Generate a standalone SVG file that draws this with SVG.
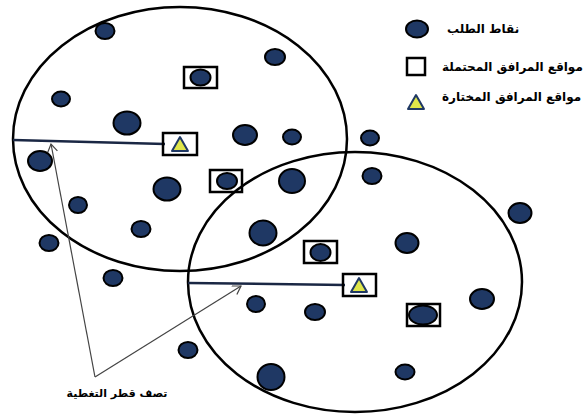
<svg xmlns="http://www.w3.org/2000/svg" width="585" height="414" viewBox="0 0 585 414">
<defs>
<style>
.ring{fill:none;stroke:#000;stroke-width:2.5}
.dot{fill:#1f3864;stroke:#000;stroke-width:2}
.box{fill:none;stroke:#000;stroke-width:2.5}
.tri{fill:#dfe64a;stroke:#1f3864;stroke-width:2;stroke-linejoin:round}
.radius{stroke:#1a2744;stroke-width:2.5;fill:none}
.ptr{stroke:#444;stroke-width:1.2;fill:none}
.lbl{font-family:"DejaVu Sans",sans-serif;font-weight:bold;font-size:11px;fill:#000}
.leg{font-family:"DejaVu Sans",sans-serif;font-weight:bold;font-size:12px;fill:#000}
</style>
<marker id="open" markerWidth="12" markerHeight="12" refX="9" refY="5" orient="auto" markerUnits="userSpaceOnUse">
<path d="M1,0 L9,5 L1,10" fill="none" stroke="#444" stroke-width="1.2"/>
</marker>
</defs>
<rect width="585" height="414" fill="#fff"/>

<g id="coverage1"><ellipse class="ring" cx="180" cy="139" rx="167" ry="132"/></g>
<g id="coverage2"><ellipse class="ring" cx="355" cy="282" rx="167" ry="130"/></g>

<g id="connectors">
<line class="radius" x1="13" y1="140" x2="165" y2="144"/>
<line class="radius" x1="188" y1="283" x2="345" y2="285"/>
<line class="ptr" x1="95" y1="377" x2="51" y2="144" marker-end="url(#open)"/>
<line class="ptr" x1="95" y1="377" x2="241" y2="286" marker-end="url(#open)"/>
</g>

<g id="demand-points">
<ellipse class="dot" cx="105" cy="31" rx="9.5" ry="8"/>
<ellipse class="dot" cx="275" cy="57" rx="10" ry="8"/>
<ellipse class="dot" cx="61" cy="99" rx="9" ry="7.5"/>
<ellipse class="dot" cx="127" cy="123" rx="13.5" ry="11.5"/>
<ellipse class="dot" cx="245" cy="135" rx="12" ry="10"/>
<ellipse class="dot" cx="292" cy="137" rx="9" ry="7.5"/>
<ellipse class="dot" cx="40" cy="161" rx="12" ry="10"/>
<ellipse class="dot" cx="167" cy="189" rx="13.5" ry="11.5"/>
<ellipse class="dot" cx="292" cy="181" rx="13" ry="12"/>
<ellipse class="dot" cx="78" cy="205" rx="9" ry="8"/>
<ellipse class="dot" cx="370" cy="138" rx="9" ry="7.5"/>
<ellipse class="dot" cx="372" cy="176" rx="9.5" ry="8"/>
<ellipse class="dot" cx="263" cy="233" rx="13.5" ry="12.5"/>
<ellipse class="dot" cx="141" cy="229" rx="9.5" ry="8"/>
<ellipse class="dot" cx="49" cy="243" rx="9.5" ry="8"/>
<ellipse class="dot" cx="113" cy="278" rx="9.5" ry="8"/>
<ellipse class="dot" cx="188" cy="350" rx="9.5" ry="8"/>
<ellipse class="dot" cx="407" cy="243" rx="11.5" ry="10"/>
<ellipse class="dot" cx="520" cy="213" rx="11.5" ry="10"/>
<ellipse class="dot" cx="482" cy="299" rx="12" ry="10"/>
<ellipse class="dot" cx="405" cy="372" rx="9.5" ry="7.5"/>
<ellipse class="dot" cx="256" cy="304" rx="9" ry="8"/>
<ellipse class="dot" cx="315" cy="312" rx="10" ry="8"/>
<ellipse class="dot" cx="271" cy="377" rx="13.5" ry="13"/>
</g>

<g id="candidate-a"><rect class="box" x="184" y="67" width="33" height="21"/><ellipse class="dot" cx="200.5" cy="77.5" rx="10" ry="8"/></g>
<g id="candidate-b"><rect class="box" x="210" y="170" width="32" height="22"/><ellipse class="dot" cx="227" cy="181" rx="10" ry="8"/></g>
<g id="candidate-c"><rect class="box" x="304" y="241" width="33" height="22"/><ellipse class="dot" cx="320.5" cy="252.5" rx="10" ry="8.5"/></g>
<g id="candidate-d"><rect class="box" x="407" y="304" width="33" height="22"/><ellipse class="dot" cx="423" cy="315" rx="14" ry="9.5"/></g>

<g id="selected-1"><rect class="box" x="163" y="133" width="34" height="22"/><polygon class="tri" points="180,137 188,151 172,151"/></g>
<g id="selected-2"><rect class="box" x="343" y="274" width="33" height="22"/><polygon class="tri" points="359,278 367,292 351,292"/></g>

<g id="legend">
<ellipse class="dot" cx="417" cy="29" rx="11" ry="8.5"/>
<text class="leg" x="447" y="33">نقاط الطلب</text>
<rect class="box" x="407" y="58" width="18" height="17"/>
<text class="leg" x="442" y="71">مواقع المرافق المحتملة</text>
<polygon class="tri" points="416,95 424,109 408,109"/>
<text class="leg" x="442" y="101">مواقع المرافق المختارة</text>
</g>

<g id="radius-label"><text class="lbl" x="117" y="397" text-anchor="middle">تصف قطر التغطية</text></g>
</svg>
